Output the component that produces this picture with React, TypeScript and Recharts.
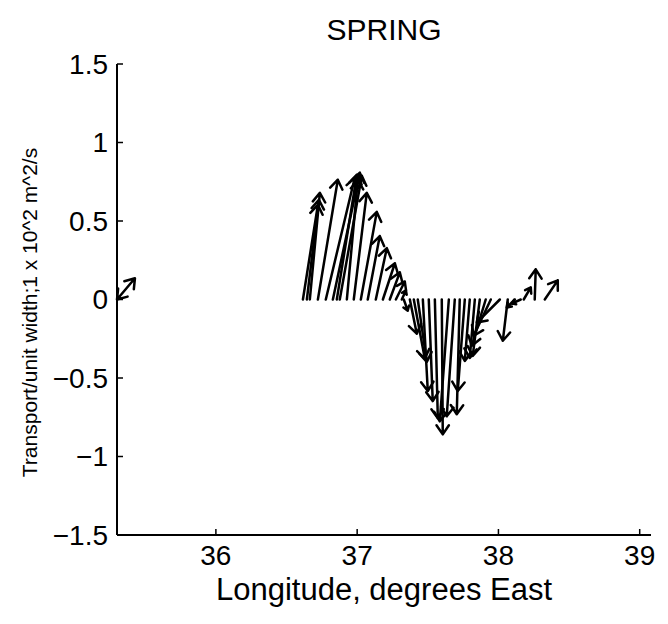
import { ComposedChart, XAxis, YAxis, ReferenceLine } from 'recharts'

// station longitude (arrow base, on the zero line)
const baseLon = [
  35.3, 36.616, 36.644, 36.665, 36.722, 36.778, 36.828, 36.856, 36.877, 36.927, 36.976,
  37.026, 37.075, 37.132, 37.182, 37.231, 37.274, 37.316, 37.33, 37.373, 37.401, 37.429,
  37.465, 37.507, 37.55, 37.599, 37.649, 37.691, 37.726, 37.762, 37.797, 37.833, 37.868,
  37.91, 37.946, 38.01, 38.066, 38.116, 38.158, 38.179, 38.257, 38.328,
]
// where the arrow tip lands along the longitude axis
const tipLon = [
  35.427, 36.722, 36.729, 36.736, 36.863, 36.983, 37.019, 36.998, 37.033, 37.005, 37.068,
  37.139, 37.16, 37.21, 37.267, 37.302, 37.337, 37.345, 37.358, 37.422, 37.479, 37.493,
  37.5, 37.535, 37.571, 37.606, 37.585, 37.634, 37.705, 37.712, 37.762, 37.797, 37.818,
  37.811, 37.825, 37.847, 38.031, 38.059, 38.095, 38.229, 38.264, 38.42,
]
// transport at the arrow tip
const tipVal = [
  0.135, 0.603, 0.635, 0.679, 0.763, 0.776, 0.808, 0.795, 0.788, 0.763, 0.679,
  0.558, 0.404, 0.327, 0.231, 0.173, 0.115, 0.058, -0.071, -0.218, -0.378, -0.397,
  -0.583, -0.647, -0.756, -0.859, -0.776, -0.744, -0.731, -0.583, -0.391, -0.372, -0.359,
  -0.295, -0.231, -0.147, -0.263, -0.051, -0.026, 0.077, 0.192, 0.122,
]
const xTicks = [36, 37, 38, 39]
const yTicks = [-1.5, -1, -0.5, 0, 0.5, 1, 1.5]

const FONT = '"Liberation Sans", Arial, Helvetica, sans-serif'

function Arrow(props: any) {
  const { x1, y1, x2, y2, both } = props
  const dx = x2 - x1
  const dy = y2 - y1
  const len = Math.hypot(dx, dy)
  const h = Math.min(11, len * 0.45)
  const head = (x: number, y: number, a: number) => {
    const a1 = a + Math.PI - 0.6
    const a2 = a + Math.PI + 0.6
    return `M${x + h * Math.cos(a1)},${y + h * Math.sin(a1)}L${x},${y}L${x + h * Math.cos(a2)},${y + h * Math.sin(a2)}`
  }
  const ang = Math.atan2(dy, dx)
  let d = `M${x1},${y1}L${x2},${y2}` + head(x2, y2, ang)
  if (both) d += head(x1, y1, ang + Math.PI)
  return <path d={d} fill="none" stroke="#000" strokeWidth={2.5} strokeLinecap="round" strokeLinejoin="round" />
}

const fmtY = (v: number) => (v < 0 ? '\u2212' : '') + Math.abs(v)

export default function App() {
  const arrows = baseLon.map((x, i) => ({ x, tx: tipLon[i], ty: tipVal[i], both: i === 0 }))

  return (
    <div style={{ position: 'absolute', left: 0, top: 0, width: 668, height: 624, background: '#fff', fontFamily: FONT }}>
      <div style={{ position: 'absolute', top: 15, left: 117, width: 534, textAlign: 'center', fontSize: 30, lineHeight: '30px', color: '#000' }}>
        SPRING
      </div>
      <ComposedChart width={668} height={624} margin={{ top: 64, right: 17, bottom: 0, left: 0 }}>
        <XAxis
          type="number"
          dataKey="x"
          domain={[35.3, 39.08]}
          ticks={xTicks}
          interval={0}
          allowDataOverflow
          height={89}
          tickSize={-6}
          tickMargin={16}
          axisLine={{ stroke: '#000', strokeWidth: 2 }}
          tickLine={{ stroke: '#000', strokeWidth: 1.5 }}
          tick={{ fill: '#000', fontSize: 28, fontFamily: FONT }}
          label={{ value: 'Longitude, degrees East', position: 'insideBottom', offset: 24, fontSize: 31, fill: '#000', fontFamily: FONT }}
        />
        <YAxis
          type="number"
          domain={[-1.5, 1.5]}
          ticks={yTicks}
          interval={0}
          allowDataOverflow
          width={117}
          tickSize={-6}
          tickMargin={15}
          tickFormatter={fmtY}
          axisLine={{ stroke: '#000', strokeWidth: 2 }}
          tickLine={{ stroke: '#000', strokeWidth: 1.5 }}
          tick={{ fill: '#000', fontSize: 28, fontFamily: FONT }}
          label={{
            content: ({ viewBox }: any) => {
              const cx = 29
              const cy = viewBox.y + viewBox.height / 2 + 13
              return (
                <text x={cx} y={cy} transform={`rotate(-90, ${cx}, ${cy})`} textAnchor="middle" dominantBaseline="central" fontSize={21} fontFamily={FONT} fill="#000">
                  Transport/unit width;1 x 10^2 m^2/s
                </text>
              )
            },
          }}
        />
        {arrows.map((a, i) => (
          <ReferenceLine
            key={i}
            segment={[{ x: a.x, y: 0 }, { x: a.tx, y: a.ty }]}
            ifOverflow="visible"
            shape={(p: any) => <Arrow {...p} both={a.both} />}
          />
        ))}
      </ComposedChart>
    </div>
  )
}
